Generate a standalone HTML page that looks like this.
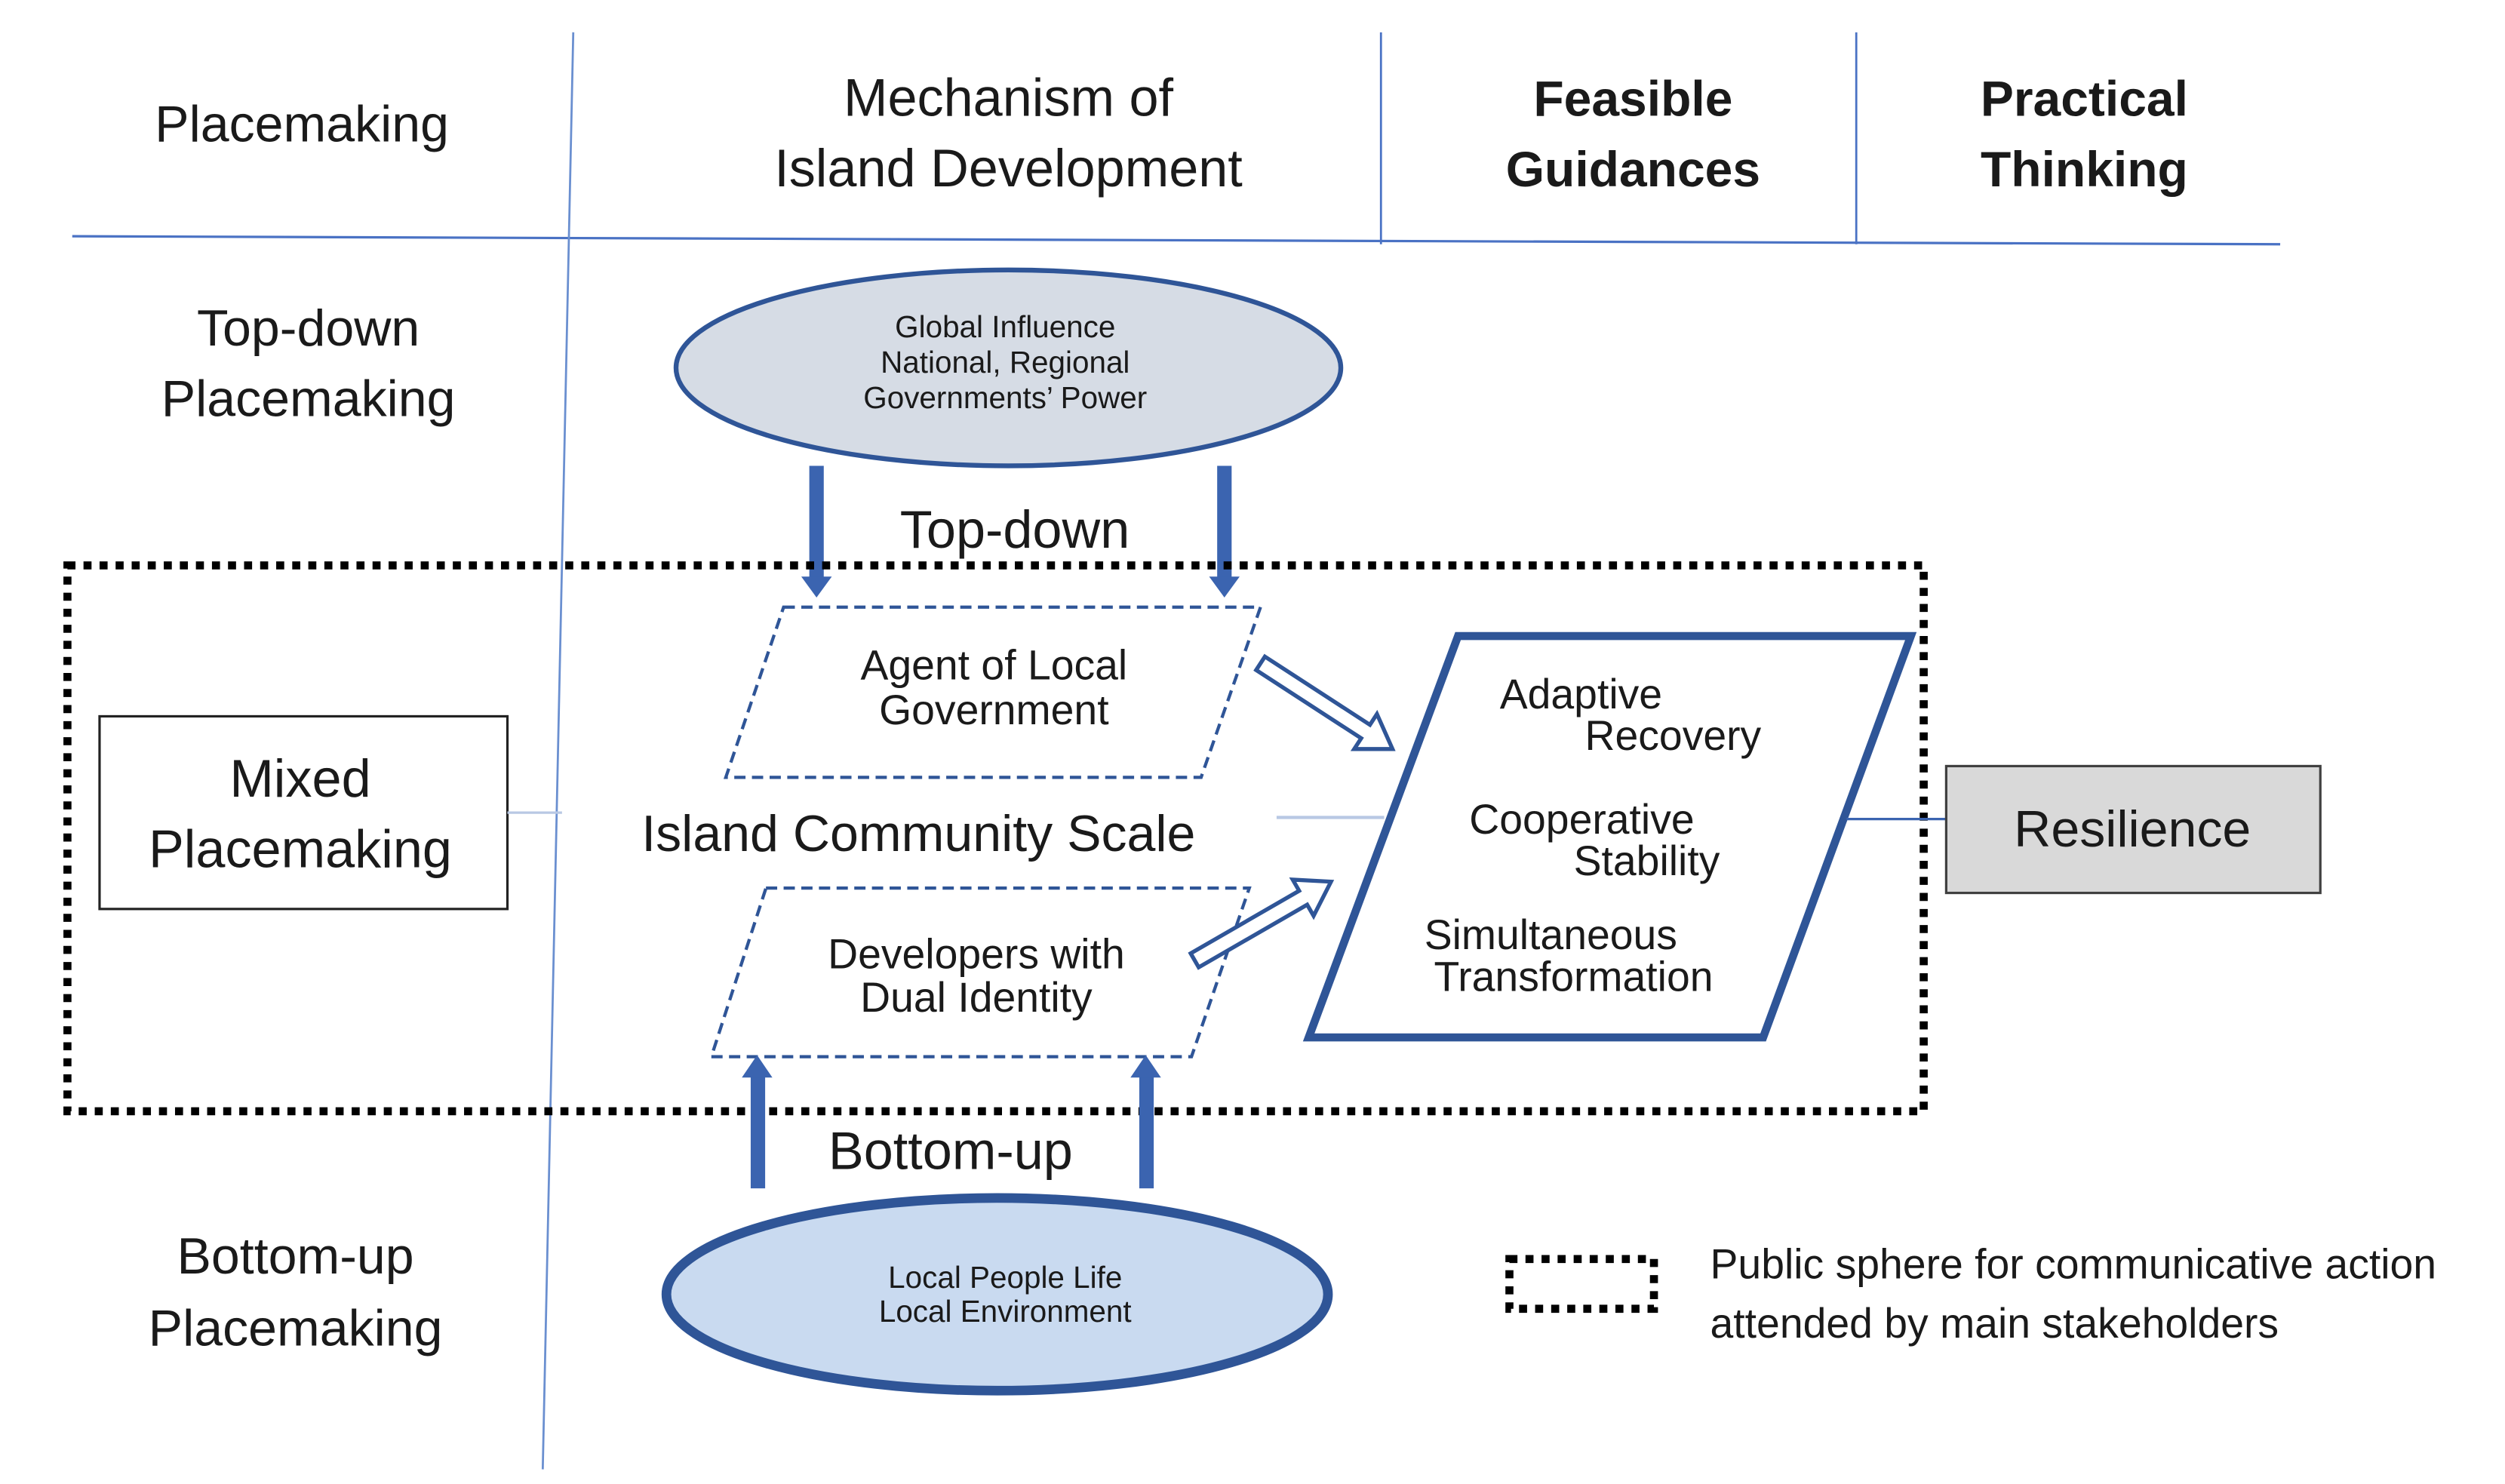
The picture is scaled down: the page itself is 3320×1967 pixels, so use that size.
<!DOCTYPE html>
<html><head><meta charset="utf-8"><style>
html,body{margin:0;padding:0;background:#fff;}
svg{display:block;}
text{font-family:"Liberation Sans",sans-serif;fill:#1a1a1a;}
</style></head><body>
<svg width="3320" height="1967" viewBox="0 0 1560 924" xmlns="http://www.w3.org/2000/svg">
<!-- grid lines -->
<line x1="45" y1="147" x2="1420" y2="152" stroke="#4a72c4" stroke-width="1.5"/>
<line x1="357" y1="20" x2="338" y2="915" stroke="#6a8fd0" stroke-width="1.3"/>
<line x1="860" y1="20" x2="860" y2="152" stroke="#4a72c4" stroke-width="1.3"/>
<line x1="1156" y1="20" x2="1156" y2="152" stroke="#4a72c4" stroke-width="1.3"/>
<!-- header -->
<g text-anchor="middle">
<text x="188" y="88" font-size="32">Placemaking</text>
<text x="628" y="72" font-size="33">Mechanism of</text>
<text x="628" y="116" font-size="33">Island Development</text>
<text x="1017" y="72" font-weight="bold" font-size="31">Feasible</text>
<text x="1017" y="116" font-weight="bold" font-size="31">Guidances</text>
<text x="1298" y="72" font-weight="bold" font-size="31">Practical</text>
<text x="1298" y="116" font-weight="bold" font-size="31">Thinking</text>
<text x="192" y="215" font-size="32">Top-down</text>
<text x="192" y="259" font-size="32">Placemaking</text>
<text x="184" y="793" font-size="32">Bottom-up</text>
<text x="184" y="838" font-size="32">Placemaking</text>
</g>
<!-- top ellipse -->
<ellipse cx="628" cy="229" rx="207" ry="61" fill="#d6dce5" stroke="#2f5597" stroke-width="3"/>
<g font-size="19" text-anchor="middle">
<text x="626" y="210">Global Influence</text>
<text x="626" y="232">National, Regional</text>
<text x="626" y="254">Governments’ Power</text>
</g>
<!-- down arrows -->
<rect x="504" y="290" width="9" height="70" fill="#3b64b0"/>
<polygon points="499,359 518,359 508.5,372" fill="#3b64b0"/>
<rect x="758" y="290" width="9" height="70" fill="#3b64b0"/>
<polygon points="753,359 772,359 762.5,372" fill="#3b64b0"/>
<text x="632" y="341" font-size="33" text-anchor="middle">Top-down</text>
<!-- dotted area -->
<rect x="42" y="352" width="1156" height="340" fill="none" stroke="#000" stroke-width="5" stroke-dasharray="5 5"/>
<!-- agent parallelogram -->
<polygon points="488,378 785,378 748,484 452,484" fill="#fff" stroke="#2f5597" stroke-width="2" stroke-dasharray="7 4"/>
<g font-size="26" text-anchor="middle">
<text x="619" y="423">Agent of Local</text>
<text x="619" y="451">Government</text>
</g>
<!-- mixed box -->
<rect x="62" y="446" width="254" height="120" fill="#fff" stroke="#222" stroke-width="1.5"/>
<g font-size="33" text-anchor="middle">
<text x="187" y="496">Mixed</text>
<text x="187" y="540">Placemaking</text>
</g>
<line x1="316" y1="506" x2="350" y2="506" stroke="#b8c8e4" stroke-width="1.5"/>
<line x1="795" y1="509" x2="862" y2="509" stroke="#b8c8e4" stroke-width="2"/>
<text x="572" y="530" font-size="32" text-anchor="middle">Island Community Scale</text>
<!-- developers -->
<polygon points="477,553 778,553 742,658 443,658" fill="#fff" stroke="#2f5597" stroke-width="2" stroke-dasharray="7 4"/>
<g font-size="26" text-anchor="middle">
<text x="608" y="603">Developers  with</text>
<text x="608" y="630">Dual Identity</text>
</g>
<!-- big parallelogram -->
<polygon points="908,396 1190,396 1098,646 815,646" fill="#fff" stroke="#2f5597" stroke-width="5"/>
<g font-size="26">
<text x="934" y="441">Adaptive</text>
<text x="987" y="467">Recovery</text>
<text x="915" y="519">Cooperative</text>
<text x="980" y="545">Stability</text>
<text x="887" y="591">Simultaneous</text>
<text x="893" y="617">Transformation</text>
</g>
<!-- hollow arrows -->
<g transform="translate(785,413) rotate(33)">
<polygon points="0,-5 78,-5 78,-13 98,0 78,13 78,5 0,5" fill="#fff" stroke="#2f5597" stroke-width="2.5"/>
</g>
<g transform="translate(744,598) rotate(-30)">
<polygon points="0,-5 78,-5 78,-13 98,0 78,13 78,5 0,5" fill="#fff" stroke="#2f5597" stroke-width="2.5"/>
</g>
<!-- resilience -->
<line x1="1150" y1="510" x2="1212" y2="510" stroke="#3b64b0" stroke-width="1.5"/>
<rect x="1212" y="477" width="233" height="79" fill="#d9d9d9" stroke="#404040" stroke-width="1.5"/>
<text x="1328" y="527" font-size="32" text-anchor="middle">Resilience</text>
<!-- up arrows -->
<rect x="467.5" y="670" width="9" height="70" fill="#3b64b0"/>
<polygon points="462,671 481,671 471.5,657" fill="#3b64b0"/>
<rect x="709.5" y="670" width="9" height="70" fill="#3b64b0"/>
<polygon points="704,671 723,671 713.5,657" fill="#3b64b0"/>
<text x="592" y="728" font-size="33" text-anchor="middle">Bottom-up</text>
<!-- bottom ellipse -->
<ellipse cx="621" cy="806" rx="206" ry="60" fill="#c9daf0" stroke="#2f5597" stroke-width="6"/>
<g font-size="19" text-anchor="middle">
<text x="626" y="802">Local People  Life</text>
<text x="626" y="823">Local Environment</text>
</g>
<!-- legend -->
<rect x="940" y="784" width="90" height="31" fill="none" stroke="#000" stroke-width="5" stroke-dasharray="5 5"/>
<g font-size="26">
<text x="1065" y="796">Public sphere for communicative action</text>
<text x="1065" y="833">attended by main stakeholders</text>
</g>
</svg>
</body></html>
